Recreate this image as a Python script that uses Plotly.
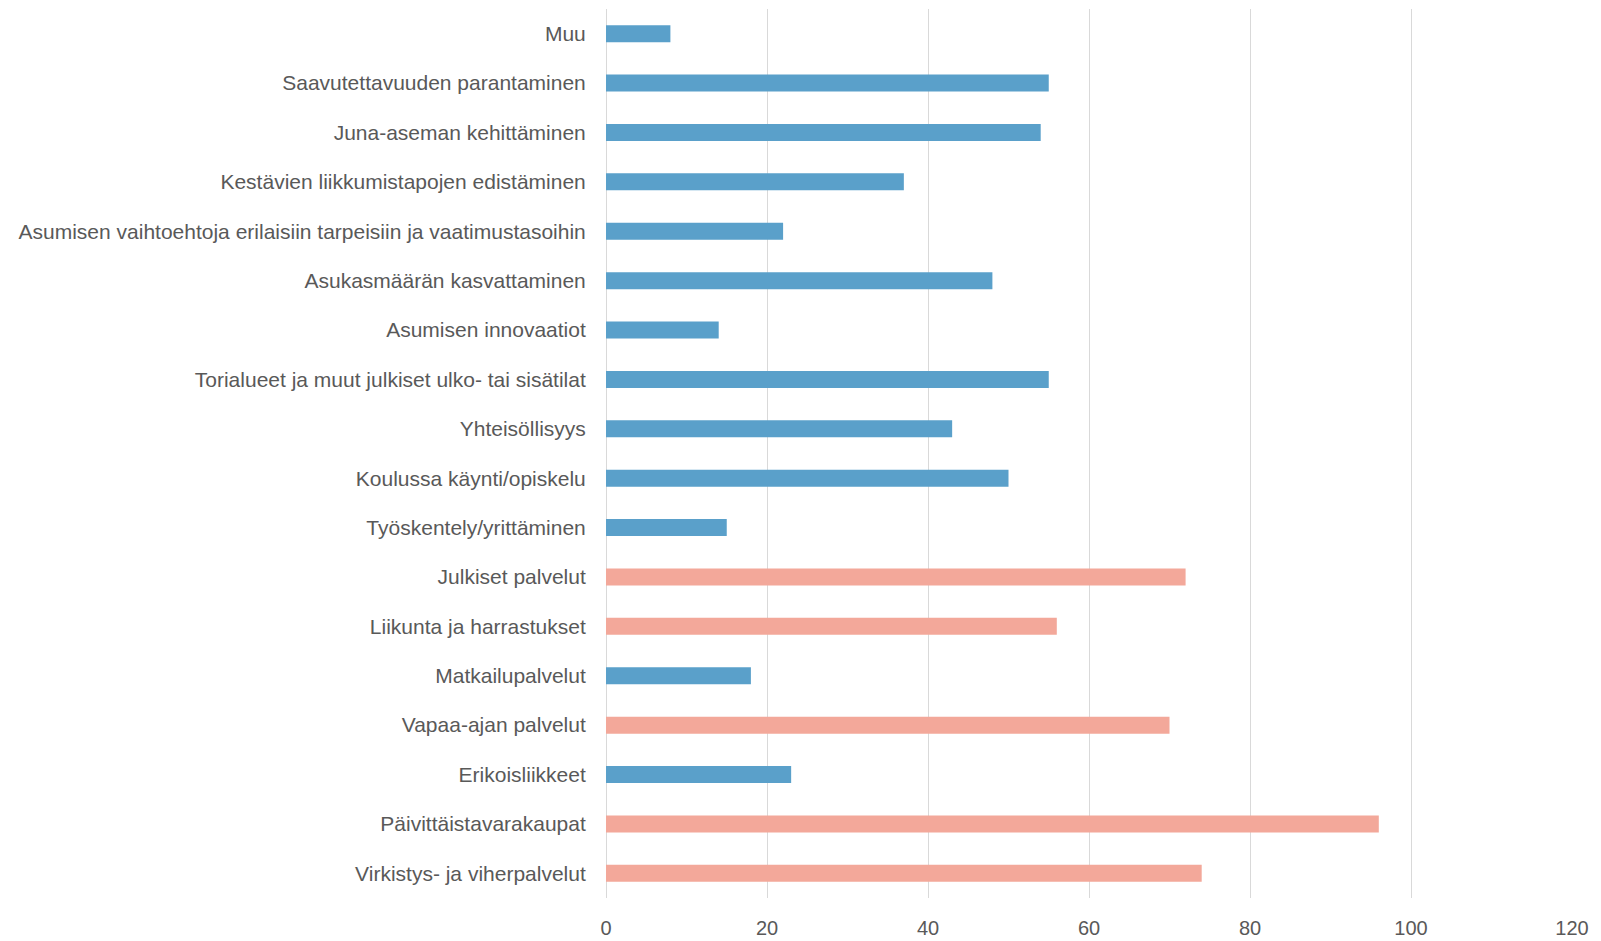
import plotly.graph_objects as go

categories = [
    "Muu",
    "Saavutettavuuden parantaminen",
    "Juna-aseman kehittäminen",
    "Kestävien liikkumistapojen edistäminen",
    "Asumisen vaihtoehtoja erilaisiin tarpeisiin ja vaatimustasoihin",
    "Asukasmäärän kasvattaminen",
    "Asumisen innovaatiot",
    "Torialueet ja muut julkiset ulko- tai sisätilat",
    "Yhteisöllisyys",
    "Koulussa käynti/opiskelu",
    "Työskentely/yrittäminen",
    "Julkiset palvelut",
    "Liikunta ja harrastukset",
    "Matkailupalvelut",
    "Vapaa-ajan palvelut",
    "Erikoisliikkeet",
    "Päivittäistavarakaupat",
    "Virkistys- ja viherpalvelut",
]
values = [8, 55, 54, 37, 22, 48, 14, 55, 43, 50, 15, 72, 56, 18, 70, 23, 96, 74]
highlighted = [False, False, False, False, False, False, False, False, False, False,
               False, True, True, False, True, False, True, True]
x_ticks = [0, 20, 40, 60, 80, 100, 120]

BLUE = "#5AA0CA"
SALMON = "#F3A89A"
colors = [SALMON if h else BLUE for h in highlighted]

fig = go.Figure(go.Bar(
    x=values, y=categories, orientation="h",
    marker=dict(color=colors, line=dict(width=0)),
    hoverinfo="x+y",
))

fig.update_layout(
    width=1601, height=941,
    margin=dict(l=606, r=29, t=9, b=43),
    plot_bgcolor="white", paper_bgcolor="white",
    bargap=0.656,
    showlegend=False,
    font=dict(family="Liberation Sans, Arial, sans-serif", color="#595959"),
)
fig.update_xaxes(
    range=[0, 120], tickvals=x_ticks, ticktext=[str(t) for t in x_ticks],
    showgrid=True, gridcolor="#D9D9D9", gridwidth=1.3,
    zeroline=True, zerolinecolor="#D9D9D9", zerolinewidth=1.3,
    showline=False,
    ticks="outside", ticklen=12, tickcolor="rgba(0,0,0,0)",
    tickfont=dict(size=20, color="#595959"),
    automargin=False,
)
fig.update_yaxes(
    categoryorder="array", categoryarray=categories, autorange="reversed",
    showgrid=False, zeroline=False, showline=False,
    ticks="outside", ticklen=15, tickcolor="rgba(0,0,0,0)",
    tickfont=dict(size=21, color="#595959"),
    automargin=False,
)

fig.write_html(
    "out.html",
    config={"displayModeBar": False},
    post_script="document.body.style.margin='0';document.body.style.overflow='hidden';",
)
